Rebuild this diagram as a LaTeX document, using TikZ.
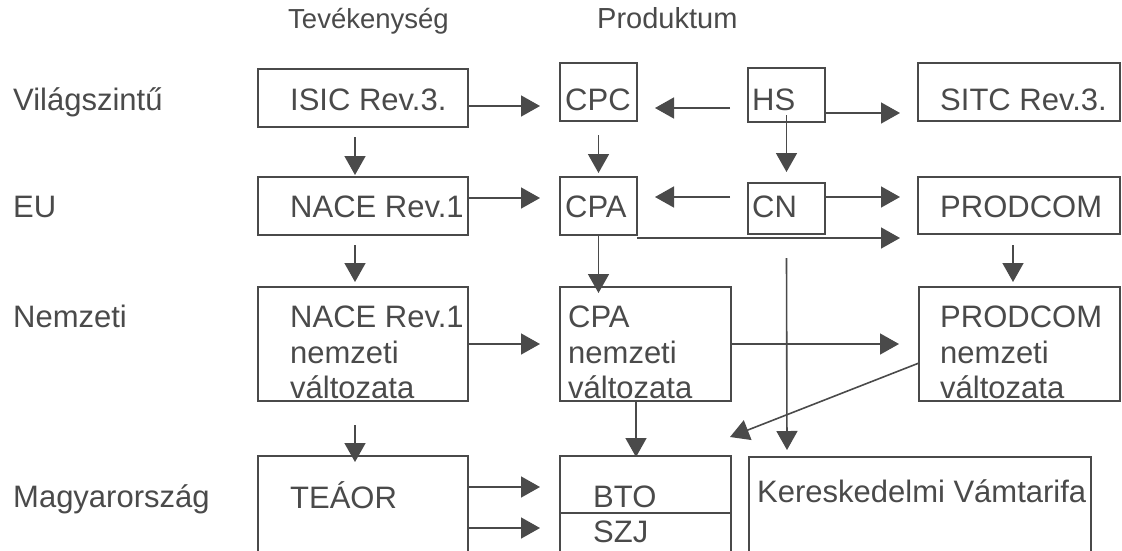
\documentclass[tikz,border=0pt]{standalone}
\usepackage{fontspec}
\setmainfont{Liberation Sans}
\usetikzlibrary{arrows.meta}
\definecolor{ink}{HTML}{4A4A4A}
\begin{document}
\begin{tikzpicture}[x=1pt,y=-1pt,
  box/.style={draw=ink, line width=1.7pt, inner sep=0pt, outer sep=0pt, anchor=north west},
  lbl/.style={anchor=base west, inner sep=0pt, text=ink, font=\fontsize{31}{36}\selectfont},
  hdr/.style={anchor=base west, inner sep=0pt, text=ink, font=\fontsize{29}{34}\selectfont},
  arr/.style={draw=ink, line width=1.6pt, -{Triangle[length=19pt,width=21pt]}}]
\useasboundingbox (0,0) rectangle (1122,550);
\clip (0,0) rectangle (1122,550);
\fill[white] (0,0) rectangle (1122,550);

% headers and row labels
\node[hdr, font=\fontsize{27.5}{33}\selectfont] (h1) at (288,28) {Tevékenység};
\node[hdr] (h2) at (597,28) {Produktum};
\node[lbl] (r1) at (13,110) {Világszintű};
\node[lbl] (r2) at (13,217) {EU};
\node[lbl] (r3) at (13,327) {Nemzeti};
\node[lbl] (r4) at (13,507) {Magyarország};

% boxes
\node[box, minimum width=210pt, minimum height=58pt] (isic) at (258,69) {};
\node[box, minimum width=77pt, minimum height=58pt] (cpc) at (560,63) {};
\node[box, minimum width=77pt, minimum height=54pt] (hs) at (748,68) {};
\node[box, minimum width=202pt, minimum height=58pt] (sitc) at (918,63) {};
\node[box, minimum width=210pt, minimum height=58pt] (nace) at (258,177) {};
\node[box, minimum width=77pt, minimum height=58pt] (cpa) at (560,177) {};
\node[box, minimum width=77pt, minimum height=51pt] (cn) at (748,183) {};
\node[box, minimum width=202pt, minimum height=57pt] (prodcom) at (918,177) {};
\node[box, minimum width=210pt, minimum height=114pt] (nacen) at (258,287) {};
\node[box, minimum width=171pt, minimum height=114pt] (cpan) at (560,287) {};
\node[box, minimum width=201pt, minimum height=114pt] (prodn) at (919,287) {};
\node[box, minimum width=210pt, minimum height=104pt] (teaor) at (258,456) {};
\node[box, minimum width=171pt, minimum height=104pt] (bto) at (560,456) {};
\node[box, minimum width=342pt, minimum height=103pt] (ker) at (749,457) {};
\draw[draw=ink, line width=1.7pt] ([yshift=-5pt]bto.west) -- ([yshift=-5pt]bto.east);

% box texts
\node[lbl] (t1) at (290,110) {ISIC Rev.3.};
\node[lbl] (t2) at (565,110) {CPC};
\node[lbl] (t3) at (752,110) {HS};
\node[lbl] (t4) at (940,110) {SITC Rev.3.};
\node[lbl] (t5) at (290,217) {NACE Rev.1};
\node[lbl] (t6) at (565,217) {CPA};
\node[lbl] (t7) at (752,217) {CN};
\node[lbl] (t8) at (940,217) {PRODCOM};
\node[lbl] (t9a) at (290,327) {NACE Rev.1};
\node[lbl] (t9b) at (290,363) {nemzeti};
\node[lbl] (t9c) at (290,398) {változata};
\node[lbl] (t10a) at (568,327) {CPA};
\node[lbl] (t10b) at (568,363) {nemzeti};
\node[lbl] (t10c) at (568,398) {változata};
\node[lbl] (t11a) at (940,327) {PRODCOM};
\node[lbl] (t11b) at (940,363) {nemzeti};
\node[lbl] (t11c) at (940,398) {változata};
\node[lbl] (t12) at (290,508) {TEÁOR};
\node[lbl] (t13) at (593,507) {BTO};
\node[lbl] (t14) at (593,542) {SZJ};
\node[lbl] (t15) at (757,502) {Kereskedelmi Vámtarifa};

% connectors
\draw[arr] ([yshift=-8pt]isic.east) -- ([xshift=-20pt,yshift=-14pt]cpc.west);
\draw[arr] ([xshift=-18pt,yshift=-13pt]hs.west) -- ([xshift=18pt,yshift=-16pt]cpc.east);
\draw[arr] ([yshift=-18pt]hs.east) -- ([xshift=-18pt,yshift=-21pt]sitc.west);
\draw[arr] ([yshift=7pt]hs.south) -- ([yshift=11pt]cn.north);
\draw[arr] ([xshift=-8pt,yshift=-10pt]isic.south) -- ([xshift=-8pt,yshift=2pt]nace.north);
\draw[arr] ([yshift=-14pt]cpc.south) -- ([yshift=4pt]cpa.north);
\draw[arr] ([yshift=8pt]nace.east) -- ([xshift=-20pt,yshift=8pt]cpa.west);
\draw[arr] ([xshift=-18pt,yshift=11.5pt]cn.west) -- ([xshift=18pt,yshift=9pt]cpa.east);
\draw[arr] ([yshift=11.5pt]cn.east) -- ([xshift=-18pt,yshift=8.5pt]prodcom.west);
\draw[arr] ([yshift=-3pt]cpa.south east) -- ([xshift=-18pt,yshift=-32.5pt]prodcom.west);
\draw[arr] ([xshift=-8pt,yshift=-10pt]nace.south) -- ([xshift=-8pt,yshift=5pt]nacen.north);
\draw[arr] (cpa.south) -- ([xshift=-47pt,yshift=-6pt]cpan.north);
\draw[arr] ([xshift=-6pt,yshift=-11pt]prodcom.south) -- ([xshift=-6.5pt,yshift=5pt]prodn.north);
\draw[arr] ([yshift=-24pt]cn.south) -- ([xshift=-133pt,yshift=7pt]ker.north);
\draw[arr] (nacen.east) -- ([xshift=-20pt]cpan.west);
\draw[arr] (cpan.east) -- ([xshift=-20pt]prodn.west);
\draw[arr] ([yshift=-19pt]prodn.west) -- ([xshift=-1pt,yshift=-36pt]cpan.south east);
\draw[arr] ([xshift=-9.5pt]cpan.south) -- ([xshift=-9.5pt,yshift=-1pt]bto.north);
\draw[arr] ([xshift=-8pt,yshift=-24pt]nacen.south) -- ([xshift=-8pt,yshift=-6pt]teaor.north);
\draw[arr] ([yshift=21pt]teaor.east) -- ([xshift=-20pt,yshift=21pt]bto.west);
\draw[arr] ([yshift=-20pt]teaor.east) -- ([xshift=-20pt,yshift=-20pt]bto.west);
\end{tikzpicture}
\end{document}
